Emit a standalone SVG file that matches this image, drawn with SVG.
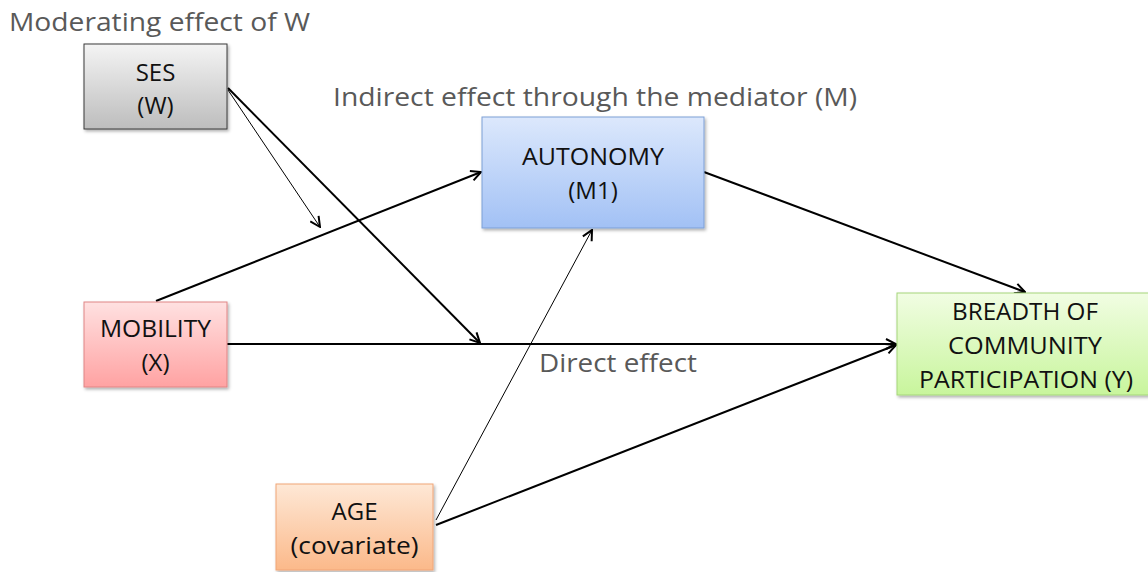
<svg xmlns="http://www.w3.org/2000/svg" width="1148" height="572" viewBox="0 0 1148 572">
  <defs>
    <linearGradient id="gGray" x1="0" y1="0" x2="0" y2="1">
      <stop offset="0" stop-color="#f4f4f4"/>
      <stop offset="1" stop-color="#bdbdbd"/>
    </linearGradient>
    <linearGradient id="gBlue" x1="0" y1="0" x2="0" y2="1">
      <stop offset="0" stop-color="#dce8fc"/>
      <stop offset="1" stop-color="#a2c1f5"/>
    </linearGradient>
    <linearGradient id="gRed" x1="0" y1="0" x2="0" y2="1">
      <stop offset="0" stop-color="#ffe1e1"/>
      <stop offset="1" stop-color="#ffa2a2"/>
    </linearGradient>
    <linearGradient id="gGreen" x1="0" y1="0" x2="0" y2="1">
      <stop offset="0" stop-color="#f1fde3"/>
      <stop offset="1" stop-color="#c8f59c"/>
    </linearGradient>
    <linearGradient id="gOrange" x1="0" y1="0" x2="0" y2="1">
      <stop offset="0" stop-color="#fee8d6"/>
      <stop offset="1" stop-color="#fbb98a"/>
    </linearGradient>
    <filter id="shadow" x="-10%" y="-10%" width="125%" height="130%">
      <feDropShadow dx="1.5" dy="2" stdDeviation="1.5" flood-color="#000" flood-opacity="0.3"/>
    </filter>
    <marker id="arrow" viewBox="0 0 12 12" refX="11" refY="6" markerWidth="12" markerHeight="12" markerUnits="userSpaceOnUse" orient="auto">
      <polyline points="1,1 11,6 1,11" fill="none" stroke="#000" stroke-width="2"/>
    </marker>
  </defs>
  <style>
    .label { font-family: "Open Sans", "Liberation Sans", sans-serif; fill: #595959; font-size: 25px; }
    .node text { font-family: "Open Sans", "Liberation Sans", sans-serif; fill: #111; font-size: 24px; text-anchor: middle; }
    .node rect { filter: url(#shadow); stroke-width: 1; }
    .edge { fill: none; stroke: #000; marker-end: url(#arrow); }
    .thick { stroke-width: 2; }
    .thin { stroke-width: 1; }
  </style>
  <rect width="1148" height="572" fill="#fff"/>

  <!-- captions -->
  <text class="label" x="9" y="31" textLength="301" lengthAdjust="spacingAndGlyphs">Moderating effect of W</text>
  <text class="label" x="333" y="106" textLength="524" lengthAdjust="spacingAndGlyphs">Indirect effect through the mediator (M)</text>
  <text class="label" x="539" y="372" textLength="158" lengthAdjust="spacingAndGlyphs">Direct effect</text>

  <!-- connectors -->
  <g id="connectors">
    <line class="edge thick" x1="228" y1="88" x2="480" y2="343"/>
    <line class="edge thin" x1="228" y1="90" x2="320" y2="227"/>
    <line class="edge thick" x1="156" y1="301" x2="481" y2="172"/>
    <line class="edge thick" x1="227" y1="344" x2="896" y2="344"/>
    <line class="edge thick" x1="704" y1="172" x2="1025" y2="292"/>
    <line class="edge thick" x1="436" y1="525" x2="896" y2="345"/>
    <line class="edge thin" x1="436" y1="520" x2="592" y2="230"/>
  </g>

  <!-- nodes -->
  <g id="ses" class="node">
    <rect x="84" y="44" width="143" height="85" fill="url(#gGray)" stroke="#3a3a3a"/>
    <text x="155.5" y="81">SES</text>
    <text x="155.5" y="114">(W)</text>
  </g>
  <g id="autonomy" class="node">
    <rect x="482" y="117" width="222" height="111" fill="url(#gBlue)" stroke="#7d9fd6"/>
    <text x="593" y="165" textLength="142" lengthAdjust="spacingAndGlyphs">AUTONOMY</text>
    <text x="593" y="199">(M1)</text>
  </g>
  <g id="mobility" class="node">
    <rect x="84" y="302" width="143" height="85" fill="url(#gRed)" stroke="#e08585"/>
    <text x="155.5" y="337" textLength="111" lengthAdjust="spacingAndGlyphs">MOBILITY</text>
    <text x="155.5" y="371">(X)</text>
  </g>
  <g id="breadth" class="node">
    <rect x="897" y="293" width="252" height="102" fill="url(#gGreen)" stroke="#a5d57a"/>
    <text x="1025" y="320" textLength="146" lengthAdjust="spacingAndGlyphs">BREADTH OF</text>
    <text x="1025" y="354" textLength="154" lengthAdjust="spacingAndGlyphs">COMMUNITY</text>
    <text x="1026" y="388" textLength="214" lengthAdjust="spacingAndGlyphs">PARTICIPATION (Y)</text>
  </g>
  <g id="age" class="node">
    <rect x="276" y="484" width="157" height="86" fill="url(#gOrange)" stroke="#f0a577"/>
    <text x="354.5" y="520">AGE</text>
    <text x="354.5" y="554" textLength="128" lengthAdjust="spacingAndGlyphs">(covariate)</text>
  </g>
</svg>
